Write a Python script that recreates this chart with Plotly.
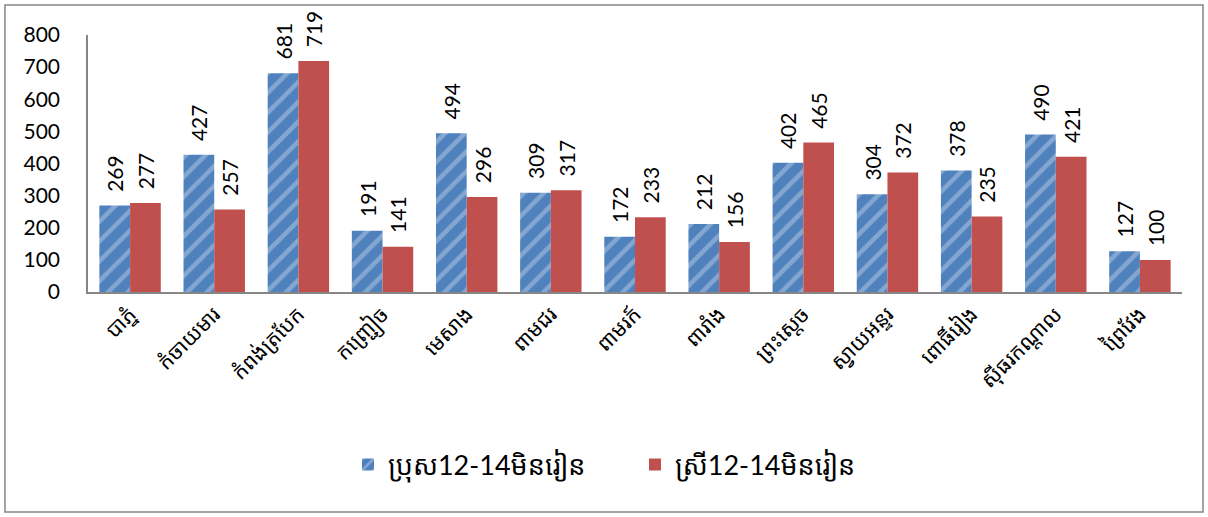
import plotly.graph_objects as go

# Prey Veng districts: children aged 12-14 not in school, by sex
districts = ["បាភ្នំ", "កំចាយមារ", "កំពង់ត្របែក", "កញ្ជ្រៀច", "មេសាង", "ពាមជរ", "ពាមរក៍",
             "ពារាំង", "ព្រះស្ដេច", "ស្វាយអន្ទរ", "ពោធិ៍រៀង", "ស៊ីធរកណ្ដាល", "ព្រៃវែង"]
male = [269, 427, 681, 191, 494, 309, 172, 212, 402, 304, 378, 490, 127]
female = [277, 257, 719, 141, 296, 317, 233, 156, 465, 372, 235, 421, 100]
series_names = ["ប្រុស12-14មិនរៀន", "ស្រី12-14មិនរៀន"]
y_ticks = [0, 100, 200, 300, 400, 500, 600, 700, 800]

FONT = "Lato, 'Noto Sans', 'Noto Sans Khmer', sans-serif"
LABEL = "\u00a0\u00a0%{y}"

fig = go.Figure()
fig.add_trace(go.Bar(
    x=districts, y=male, name=series_names[0],
    marker=dict(color="#4F81BD",
                pattern=dict(shape="/", fgcolor="#B9CDE5", bgcolor="#4F81BD",
                             size=14, solidity=0.32, fillmode="overlay"),
                line=dict(width=0)),
    texttemplate=LABEL, textposition="outside", textangle=-90, constraintext="none",
    textfont=dict(size=21, color="black", family=FONT), cliponaxis=False,
))
fig.add_trace(go.Bar(
    x=districts, y=female, name=series_names[1],
    marker=dict(color="#C0504D", line=dict(width=0)),
    texttemplate=LABEL, textposition="outside", textangle=-90, constraintext="none",
    textfont=dict(size=21, color="black", family=FONT), cliponaxis=False,
))

fig.update_layout(
    width=1208, height=517,
    margin=dict(l=88, r=26, t=35, b=225),
    paper_bgcolor="white", plot_bgcolor="white",
    barmode="group", bargap=0.27, bargroupgap=0,
    font=dict(family=FONT, color="black"),
    showlegend=True,
    legend=dict(orientation="h", x=0.5, xanchor="center", y=-0.673, yanchor="middle",
                font=dict(size=27), entrywidth=242, entrywidthmode="pixels",
                traceorder="normal"),
    shapes=[dict(type="rect", xref="paper", yref="paper",
                 x0=-0.0759, x1=1.0192, y0=-0.856, y1=1.1167,
                 line=dict(color="#868686", width=1.5), layer="below")],
)
fig.update_xaxes(
    showline=True, linecolor="#868686", linewidth=1.5, ticks="",
    tickangle=-45, tickfont=dict(size=21), showgrid=False,
)
fig.update_yaxes(
    range=[0, 800], tickvals=y_ticks, showline=True, linecolor="#868686", linewidth=1.5,
    showgrid=False, zeroline=False, ticks="", ticklabelstandoff=22,
    tickfont=dict(size=21),
)

fig.write_html("out.html")
